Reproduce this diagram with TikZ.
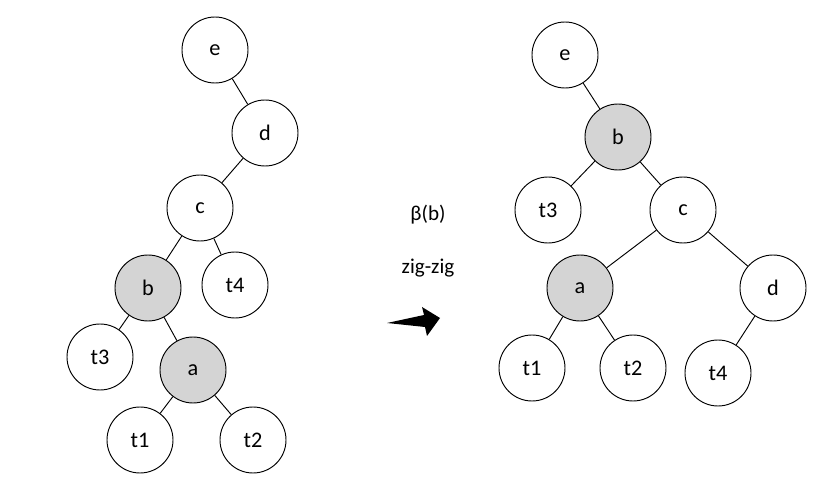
\documentclass[tikz,border=0pt]{standalone}
\usepackage{fontspec}
\setmainfont{Carlito}
\begin{document}
\begin{tikzpicture}[x=0.03cm,y=-0.03cm,
				treenode/.style={circle, draw=black, fill=white, thick, minimum size=1.98cm, inner sep=0pt, font=\fontsize{19}{22}\selectfont},
				marknode/.style={treenode, fill=black!17},
				labelnode/.style={font=\fontsize{18}{22}\selectfont},
			]
			\useasboundingbox (0,0) rectangle (831,485);
			% before the rotation
			\node[treenode] (le) at (215,50) {e};
			\node[treenode] (ld) at (265,133) {d};
			\node[treenode] (lc) at (200,208) {c};
			\node[marknode] (lb) at (148,288) {b};
			\node[treenode] (lt4) at (235,285) {t4};
			\node[treenode] (lt3) at (100,357) {t3};
			\node[marknode] (la) at (193,370) {a};
			\node[treenode] (lt1) at (140,440) {t1};
			\node[treenode] (lt2) at (253,440) {t2};
			% after the rotation
			\node[treenode] (re) at (565,55) {e};
			\node[marknode] (rb) at (618,137) {b};
			\node[treenode] (rt3) at (548,210) {t3};
			\node[treenode] (rc) at (683,210) {c};
			\node[marknode] (ra) at (580,288) {a};
			\node[treenode] (rd) at (773,288) {d};
			\node[treenode] (rt1) at (532,368) {t1};
			\node[treenode] (rt2) at (633,368) {t2};
			\node[treenode] (rt4) at (718,373) {t4};
			% operation
			\node[labelnode] (opname) at (428,215) {β(b)};
			\node[labelnode] (optype) at (428,268) {zig-zig};
			\coordinate (arrowtail) at (387,323);
			\coordinate (arrowtip) at (440,318);
			\begin{scope}[thick]
			\draw (le) -- (ld);
			\draw (ld) -- (lc);
			\draw (lc) -- (lb);
			\draw (lc) -- (lt4);
			\draw (lb) -- (lt3);
			\draw (lb) -- (la);
			\draw (la) -- (lt1);
			\draw (la) -- (lt2);
			\draw (re) -- (rb);
			\draw (rb) -- (rt3);
			\draw (rb) -- (rc);
			\draw (rc) -- (ra);
			\draw (rc) -- (rd);
			\draw (ra) -- (rt1);
			\draw (ra) -- (rt2);
			\draw (rd) -- (rt4);
			\end{scope}
			\fill (arrowtail) -- ([shift={(37,-8)}]arrowtail) -- ([shift={(35,-16)}]arrowtail)
				-- (arrowtip) -- ([shift={(40,13)}]arrowtail) -- ([shift={(38,4)}]arrowtail) -- cycle;
			\end{tikzpicture}
\end{document}
